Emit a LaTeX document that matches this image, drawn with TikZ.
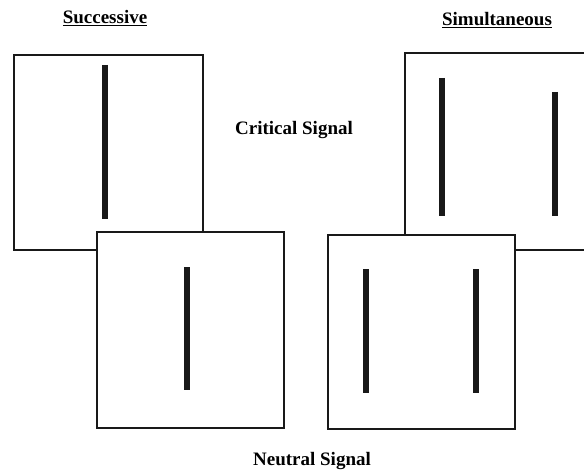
\documentclass[tikz,border=0pt]{standalone}
\usepackage{fontspec}
\setmainfont{Liberation Serif}
\begin{document}
\begin{tikzpicture}[x=1pt,y=-1pt,
  frame/.style={draw=black!90, line width=2.2pt, fill=white, inner sep=0pt, anchor=north west},
  bar/.style={line width=5.5pt, draw=black!90},
  lbl/.style={font=\fontsize{19}{23}\selectfont\bfseries, inner sep=0pt}]
\useasboundingbox (0,0) rectangle (584,476);
\clip (0,0) rectangle (584,476);
% back frames (critical signal)
\node[frame, minimum width=189pt, minimum height=195pt] (lt) at (13,54) {};
\node[frame, minimum width=196pt, minimum height=197pt] (rt) at (404,52) {};
% front frames (neutral signal)
\node[frame, minimum width=187pt, minimum height=196pt] (lb) at (96,231) {};
\node[frame, minimum width=187pt, minimum height=194pt] (rb) at (327,234) {};
% bars
\draw[bar] (105,65) -- (105,219);
\draw[bar] (187,267) -- (187,390);
\draw[bar] (442,78) -- (442,216);
\draw[bar] (555,92) -- (555,216);
\draw[bar] (366,269) -- (366,393);
\draw[bar] (476,269) -- (476,393);
% labels
\node[lbl] (succ) at (105,18) {\underline{Successive}};
\node[lbl] (simu) at (497,20) {\underline{Simultaneous}};
\node[lbl] (crit) at (294,130) {Critical Signal};
\node[lbl] (neut) at (312,461) {Neutral Signal};
\end{tikzpicture}
\end{document}
